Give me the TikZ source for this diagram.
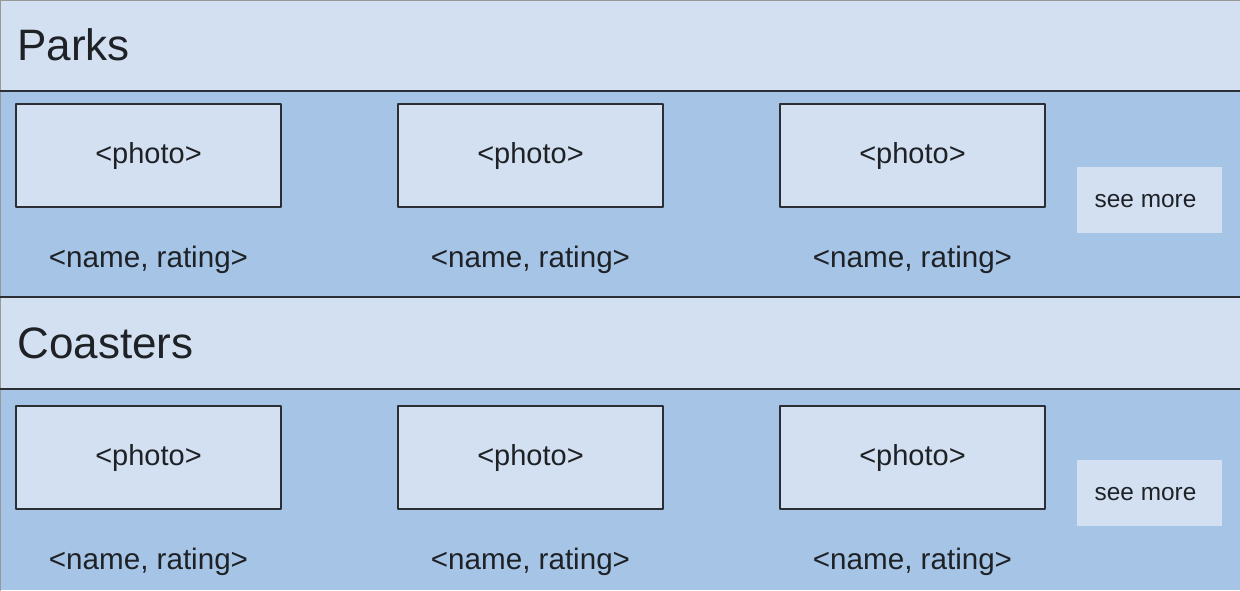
\documentclass[tikz,border=0pt]{standalone}
\usepackage{fontspec}
\setmainfont{Liberation Sans}
\definecolor{lightband}{HTML}{D3E0F1}
\definecolor{midband}{HTML}{A6C4E6}
\definecolor{edge}{HTML}{2B2F33}
\definecolor{ink}{HTML}{1E2226}
\tikzset{
  photobox/.style={draw=edge,line width=1pt,fill=lightband,minimum width=132.5pt,minimum height=51.5pt,inner sep=0pt,text=ink,font=\fontsize{14.5}{16}\selectfont},
  namelabel/.style={font=\fontsize{14.8}{16}\selectfont,text=ink,inner sep=0pt},
  morebox/.style={fill=lightband,minimum width=72.5pt,minimum height=33pt,inner sep=0pt},
  moretext/.style={font=\fontsize{12.2}{14}\selectfont,text=ink,inner sep=0pt},
  heading/.style={anchor=west,font=\fontsize{22}{24}\selectfont,text=ink,inner sep=0pt}
}
\begin{document}
\begin{tikzpicture}[line cap=round,line join=round,x=0.5pt,y=-0.5pt]
\useasboundingbox (0,0) rectangle (1240,590);
% bands
\fill[lightband] (0,0) rectangle (1240,91);
\fill[midband] (0,91) rectangle (1240,297);
\fill[lightband] (0,297) rectangle (1240,389);
\fill[midband] (0,389) rectangle (1240,590);
\draw[gray!80,line width=1pt] (0,590) -- (0,0) -- (1240,0);
\draw[edge,line width=1pt] (0,91) -- (1240,91);
\draw[edge,line width=1pt] (0,297) -- (1240,297);
\draw[edge,line width=1pt] (0,389) -- (1240,389);
%
\node[heading] (parks) at (17,45) {Parks};
\node[heading] (coasters) at (17,343) {Coasters};
%
\foreach \col/\cx in {1/148.5,2/530.5,3/912.5}{
  \node[photobox] (photo-p\col) at (\cx,155.5) {\raisebox{-1pt}{<photo>}};
  \node[namelabel] (name-p\col) at (\cx,260) {<name, rating>};
  \node[photobox] (photo-c\col) at (\cx,457.5) {\raisebox{-1pt}{<photo>}};
  \node[namelabel] (name-c\col) at (\cx,562) {<name, rating>};
}
\node[morebox] (more-p) at (1149.5,200) {};
\node[moretext] at ([xshift=-2pt,yshift=-0.5pt]more-p.center) {see more};
\node[morebox] (more-c) at (1149.5,493) {};
\node[moretext] at ([xshift=-2pt,yshift=-0.5pt]more-c.center) {see more};
\end{tikzpicture}
\end{document}
